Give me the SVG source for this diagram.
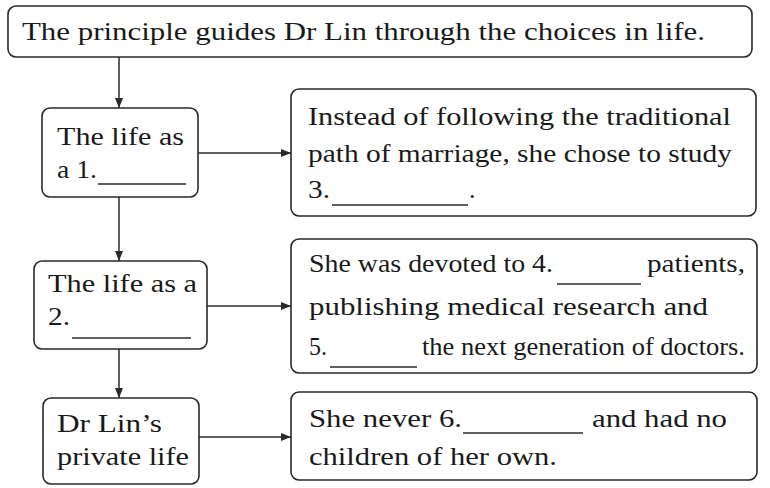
<svg xmlns="http://www.w3.org/2000/svg" width="770" height="488" viewBox="0 0 770 488">
<style>
.box{fill:#fff;stroke:#2a2a2a;stroke-width:1.6}
.t{font-family:"Liberation Serif","DejaVu Serif",serif;font-size:26px;fill:#1a1a1a}
.u{stroke:#2a2a2a;stroke-width:1.4}
.c{stroke:#2a2a2a;stroke-width:1.5;fill:none}
</style>
<defs>
<marker id="ah" viewBox="0 0 10 8" refX="10" refY="4" markerWidth="10" markerHeight="8" markerUnits="userSpaceOnUse" orient="auto">
<path d="M0,0 L10,4 L0,8 Z" fill="#2a2a2a"/>
</marker>
</defs>
<rect width="770" height="488" fill="#fff"/>
<g id="connectors">
<line class="c" x1="119" y1="57" x2="119" y2="108" marker-end="url(#ah)"/>
<line class="c" x1="119" y1="197" x2="119" y2="261" marker-end="url(#ah)"/>
<line class="c" x1="119" y1="349" x2="119" y2="398" marker-end="url(#ah)"/>
<line class="c" x1="198" y1="153" x2="291" y2="153" marker-end="url(#ah)"/>
<line class="c" x1="207" y1="306" x2="291" y2="306" marker-end="url(#ah)"/>
<line class="c" x1="199" y1="437" x2="291" y2="437" marker-end="url(#ah)"/>
</g>
<g id="top">
<rect class="box" x="8" y="6" width="744" height="51" rx="8"/>
<text class="t" x="22" y="40" textLength="683" lengthAdjust="spacingAndGlyphs">The principle guides Dr Lin through the choices in life.</text>
</g>
<g id="life1">
<rect class="box" x="42" y="108" width="156" height="89" rx="8"/>
<text class="t" x="57" y="145" textLength="127" lengthAdjust="spacingAndGlyphs">The life as</text>
<text class="t" x="57" y="178" textLength="40" lengthAdjust="spacingAndGlyphs">a 1.</text>
<line class="u" x1="98" y1="184" x2="186" y2="184"/>
</g>
<g id="life2">
<rect class="box" x="34" y="261" width="173" height="88" rx="8"/>
<text class="t" x="48" y="292" textLength="149" lengthAdjust="spacingAndGlyphs">The life as a</text>
<text class="t" x="48" y="325" textLength="22" lengthAdjust="spacingAndGlyphs">2.</text>
<line class="u" x1="72" y1="338" x2="191" y2="338"/>
</g>
<g id="private">
<rect class="box" x="43" y="398" width="156" height="86" rx="8"/>
<text class="t" x="57" y="432" textLength="105" lengthAdjust="spacingAndGlyphs">Dr Lin’s</text>
<text class="t" x="57" y="465" textLength="132" lengthAdjust="spacingAndGlyphs">private life</text>
</g>
<g id="study">
<rect class="box" x="291" y="89" width="465" height="127" rx="8"/>
<text class="t" x="308" y="125" textLength="423" lengthAdjust="spacingAndGlyphs">Instead of following the traditional</text>
<text class="t" x="308" y="162" textLength="424" lengthAdjust="spacingAndGlyphs">path of marriage, she chose to study</text>
<text class="t" x="308" y="198" textLength="22" lengthAdjust="spacingAndGlyphs">3.</text>
<line class="u" x1="332" y1="205" x2="468" y2="205"/>
<text class="t" x="469" y="198">.</text>
</g>
<g id="devoted">
<rect class="box" x="291" y="239" width="466" height="134" rx="8"/>
<text class="t" x="309" y="272" textLength="244" lengthAdjust="spacingAndGlyphs">She was devoted to 4.</text>
<line class="u" x1="557" y1="284" x2="641" y2="284"/>
<text class="t" x="647" y="272" textLength="98" lengthAdjust="spacingAndGlyphs">patients,</text>
<text class="t" x="309" y="315" textLength="399" lengthAdjust="spacingAndGlyphs">publishing medical research and</text>
<text class="t" x="309" y="355" textLength="18" lengthAdjust="spacingAndGlyphs">5.</text>
<line class="u" x1="330" y1="367" x2="417" y2="367"/>
<text class="t" x="422" y="355" textLength="323" lengthAdjust="spacingAndGlyphs">the next generation of doctors.</text>
</g>
<g id="never">
<rect class="box" x="291" y="392" width="466" height="88" rx="8"/>
<text class="t" x="309" y="427" textLength="153" lengthAdjust="spacingAndGlyphs">She never 6.</text>
<line class="u" x1="463" y1="433" x2="583" y2="433"/>
<text class="t" x="592" y="427" textLength="135" lengthAdjust="spacingAndGlyphs">and had no</text>
<text class="t" x="309" y="465" textLength="248" lengthAdjust="spacingAndGlyphs">children of her own.</text>
</g>
</svg>
